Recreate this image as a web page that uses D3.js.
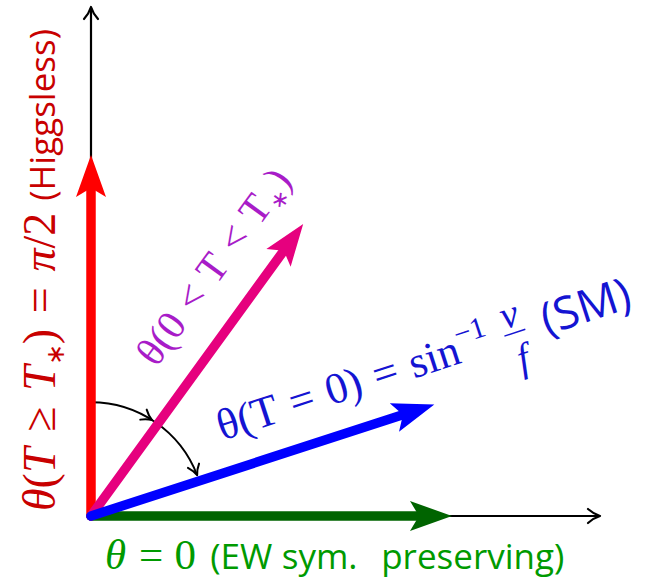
<!DOCTYPE html>
<html>
<head>
<meta charset="utf-8">
<script src="https://cdn.jsdelivr.net/npm/d3@7"></script>
<style>
  html, body { margin: 0; padding: 0; background: #fff; }
  svg { display: block; }
</style>
</head>
<body>
<svg id="chart" width="652" height="581"></svg>
<script>
// Vacuum misalignment angle θ in the (v, f) plane: four regimes drawn as unit vectors.
const regimes      = ["EW sym. preserving", "SM", "intermediate", "Higgsless"];
const regimeAngle  = [0, 18, 54, 90];        // degrees from the horizontal axis
const regimeLength = [1, 1, 1, 1];           // unit vectors
const axisExtent   = [0, 1.41];              // both axes, in vector units
const sweepRadius  = 0.315;                  // radius of the T-evolution arc
const sweepAngles  = [90, 21];               // arc runs from the Higgsless to the SM direction
const sweepMarks   = [57.5];                 // extra arrow mark along the arc

// Label text, split into typeset runs: [text, kind] or [gap in em]
const labelHiggsless = [
  ["θ", "mi"], ["(", "mr"], ["T", "mi"], [0.34], ["≥", "mr"], [0.34], ["T", "mi"], ["∗", "sub"],
  [")", "mr"], [0.34], ["=", "mr"], [0.34], ["π", "mi"], ["/2", "mr"], [0.26], ["(Higgsless)", "sf"]
];
const labelSym = [
  ["θ", "mi"], [0.3], ["=", "mr"], [0.26], ["0", "mr"], [0.33], ["(EW", "sf"], [0.22], ["sym.", "sf"], [0.55], ["preserving)", "sf"]
];
const labelSM = [
  ["θ", "mr"], ["(", "mr"], ["T", "mr"], [0.3], ["=", "mr"], [0.3], ["0", "mr"], [")", "mr"], [0.3],
  ["=", "mr"], [0.3], ["sin", "mr"], ["−1", "sup"], [0.36], ["v|f", "frac"], [0.42], ["(SM)", "sf"]
];
const labelMid = [
  ["θ", "mr"], ["(", "mr"], ["0", "mr"], [0.3], ["<", "mr"], [0.3], ["T", "mr"], [0.3], ["<", "mr"],
  [0.3], ["T", "mr"], ["∗", "sub"], [")", "mr"]
];

const svg = d3.select("#chart");

const x = d3.scaleLinear().domain(axisExtent).range([91, 600]);
const y = d3.scaleLinear().domain(axisExtent).range([516, 7]);

const color = d3.scaleOrdinal().domain(regimes)
  .range(["#006400", "#0000ff", "#e6007e", "#ff0000"]);
const textColor = d3.scaleOrdinal().domain(regimes)
  .range(["#009a00", "#1414d2", "#a81cc8", "#c80000"]);

const rad = d => d * Math.PI / 180;
const px = (len, ang) => [x(len * Math.cos(rad(ang))), y(len * Math.sin(rad(ang)))];

// ---- arrowheads ----
const stealth = "M0,0 L-42,-15 L-33,0 L-42,15 Z";
const tipPath = s => `M${-12*s},${-7*s} C${-7*s},${-2.6*s} ${-3*s},${-0.9*s} 0,0 C${-3*s},${0.9*s} ${-7*s},${2.6*s} ${-12*s},${7*s}`;

function lineArrow(g, p0, p1, scaleHead) {
  const a = Math.atan2(p1[1] - p0[1], p1[0] - p0[0]);
  g.append("path")
    .attr("d", d3.line()([p0, [p1[0] - Math.cos(a), p1[1] - Math.sin(a)]]))
    .attr("stroke", "#000").attr("stroke-width", 2.2).attr("fill", "none");
  g.append("path")
    .attr("d", tipPath(scaleHead))
    .attr("transform", `translate(${p1[0]},${p1[1]}) rotate(${a * 180 / Math.PI})`)
    .attr("stroke", "#000").attr("stroke-width", 2.2).attr("fill", "none")
    .attr("stroke-linecap", "round").attr("stroke-linejoin", "round");
}

// ---- axes ----
const axes = svg.append("g");
lineArrow(axes, [x(0), y(0)], [x(axisExtent[1]), y(0)], 1);
lineArrow(axes, [x(0), y(0)], [x(0), y(axisExtent[1])], 1);

// ---- sweep arc (temperature evolution) ----
const arcG = svg.append("g");
const r = x(sweepRadius) - x(0);
const arcPath = d3.path();
arcPath.arc(x(0), y(0), r, -rad(sweepAngles[0]), -rad(sweepAngles[1]), false);
arcG.append("path").attr("d", arcPath.toString())
  .attr("stroke", "#000").attr("stroke-width", 2).attr("fill", "none");
sweepMarks.concat([sweepAngles[1]]).forEach(ang => {
  const p = px(sweepRadius, ang);
  const dirDeg = -ang + 90; // clockwise tangent in screen space
  arcG.append("path").attr("d", tipPath(0.85))
    .attr("transform", `translate(${p[0]},${p[1]}) rotate(${dirDeg})`)
    .attr("stroke", "#000").attr("stroke-width", 2).attr("fill", "none")
    .attr("stroke-linecap", "round").attr("stroke-linejoin", "round");
});

// ---- regime vectors ----
const drawOrder = [3, 0, 2, 1];
const vecG = svg.append("g");
drawOrder.forEach(i => {
  const ang = regimeAngle[i], len = regimeLength[i];
  const p0 = [x(0), y(0)];
  const p1 = px(len, ang);
  const a = Math.atan2(p1[1] - p0[1], p1[0] - p0[0]);
  const shaftEnd = [p1[0] - 34 * Math.cos(a), p1[1] - 34 * Math.sin(a)];
  vecG.append("path")
    .attr("d", d3.line()([p0, shaftEnd]))
    .attr("stroke", color(regimes[i])).attr("stroke-width", 9.5).attr("fill", "none")
    .attr("stroke-linecap", "round");
  vecG.append("path")
    .attr("d", stealth)
    .attr("transform", `translate(${p1[0]},${p1[1]}) rotate(${a * 180 / Math.PI})`)
    .attr("fill", color(regimes[i]));
});

// ---- typesetting of labels ----
const SERIF = "'Liberation Serif', 'DejaVu Serif', serif";
const SANS = "'Open Sans', Lato, sans-serif";
const fonts = {
  mi:  { family: SERIF, style: "italic", scale: 1, dy: 0 },
  mr:  { family: SERIF, style: "normal", scale: 1, dy: 0 },
  sub: { family: "'DejaVu Sans', sans-serif", style: "normal", scale: 0.55, dy: 0.2 },
  sup: { family: SERIF, style: "normal", scale: 0.68, dy: -0.42 }
};

function typeset(g, runs, mathSize, sansSize, fill) {
  let cx = 0;
  const put = (txt, xx, yy, fam, sty, sz) => g.append("text")
    .attr("x", xx).attr("y", yy).attr("font-family", fam).attr("font-style", sty)
    .attr("font-size", sz).attr("fill", fill).text(txt);
  runs.forEach(run => {
    if (run.length === 1) { cx += run[0] * mathSize; return; }
    const [txt, kind] = run;
    if (kind === "frac") {
      const [num, den] = txt.split("|");
      const fs = mathSize * 0.9;
      const tn = put(num, cx, -0.42 * mathSize, SERIF, "italic", fs);
      const td = put(den, cx, 0.62 * mathSize, SERIF, "italic", fs);
      const wn = tn.node().getComputedTextLength();
      const wd = td.node().getComputedTextLength();
      const w = Math.max(wn, wd) + 0.1 * mathSize;
      tn.attr("x", cx + (w - wn) / 2);
      td.attr("x", cx + (w - wd) / 2);
      g.append("line").attr("x1", cx).attr("x2", cx + w)
        .attr("y1", -0.28 * mathSize).attr("y2", -0.28 * mathSize)
        .attr("stroke", fill).attr("stroke-width", 1.5);
      cx += w;
      return;
    }
    if (kind === "sf") {
      const t = put(txt, cx, 0, SANS, "normal", sansSize);
      cx += t.node().getComputedTextLength();
      return;
    }
    const f = fonts[kind];
    const t = put(txt, cx, f.dy * mathSize, f.family, f.style, mathSize * f.scale);
    cx += t.node().getComputedTextLength();
  });
  return cx;
}

// Label anchored to a vector: `along` px from the origin, `perp` px to its left side
function vectorLabel(i, runs, mathSize, sansSize, along, perp) {
  const ang = regimeAngle[i];
  const u = [Math.cos(rad(ang)), -Math.sin(rad(ang))];
  const n = [-Math.sin(rad(ang)), -Math.cos(rad(ang))];
  const bx = x(0) + along * u[0] + perp * n[0];
  const by = y(0) + along * u[1] + perp * n[1];
  const g = svg.append("g").attr("transform", `translate(${bx},${by}) rotate(${-ang})`);
  typeset(g, runs, mathSize, sansSize, textColor(regimes[i]));
}

vectorLabel(3, labelHiggsless, 46, 35, 5, 36);
vectorLabel(0, labelSym, 43, 35, 14, -53);
vectorLabel(1, labelSM, 44, 45, 148, 31);
vectorLabel(2, labelMid, 41, 41, 158, 34);
</script>
</body>
</html>
